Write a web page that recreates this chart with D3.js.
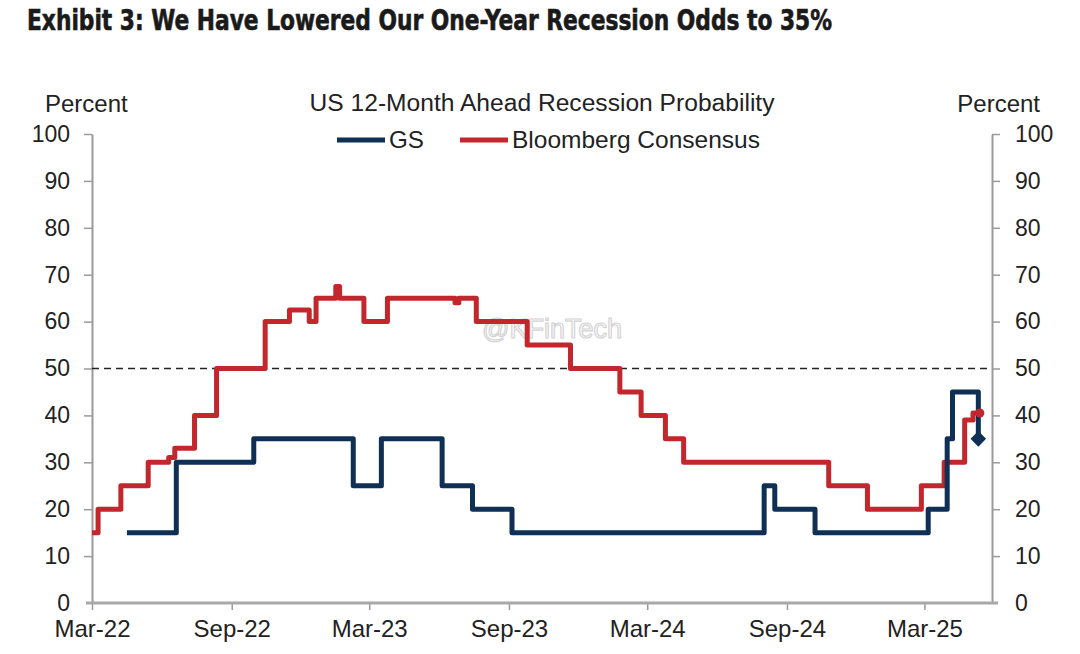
<!DOCTYPE html>
<html>
<head>
<meta charset="utf-8">
<script src="https://cdn.jsdelivr.net/npm/d3@7"></script>
<style>
  html, body { margin: 0; padding: 0; background: #fff; }
  svg { display: block; }
  text { font-family: "Liberation Sans", Arial, sans-serif; fill: #222; }
</style>
</head>
<body>
<svg id="chart" width="1080" height="654"></svg>
<script>
// ---------- data ----------
const title = "Exhibit 3: We Have Lowered Our One-Year Recession Odds to 35%";
const subtitle = "US 12-Month  Ahead  Recession Probability";
const seriesNames = ["GS", "Bloomberg Consensus"];
const yTicks = [0, 10, 20, 30, 40, 50, 60, 70, 80, 90, 100];
const xTickDates = ["2022-03-01", "2022-09-01", "2023-03-01", "2023-09-01", "2024-03-01", "2024-09-01", "2025-03-01"];
const xTickLabels = ["Mar-22", "Sep-22", "Mar-23", "Sep-23", "Mar-24", "Sep-24", "Mar-25"];
const xDomain = ["2022-03-01", "2025-05-29"];
const threshold = 50;

// GS step series: date the value takes effect
const gsDates = ["2022-04-16", "2022-06-20", "2022-09-30", "2023-02-08", "2023-03-17", "2023-06-05",
  "2023-07-15", "2023-09-05", "2024-08-02", "2024-08-16", "2024-10-08", "2025-03-06",
  "2025-03-31", "2025-04-07", "2025-05-11"];
const gsValues = [15, 30, 35, 25, 35, 25, 20, 15, 25, 20, 15, 20, 35, 45, 35];

// Bloomberg consensus step series
const bbgDates = ["2022-03-01", "2022-03-09", "2022-04-08", "2022-05-14", "2022-06-10", "2022-06-18",
  "2022-07-14", "2022-08-12", "2022-10-15", "2022-11-16", "2022-12-12", "2022-12-21",
  "2023-01-16", "2023-01-21", "2023-02-22", "2023-03-25", "2023-06-22", "2023-06-27",
  "2023-07-20", "2023-09-25", "2023-11-21", "2024-01-25", "2024-02-22", "2024-03-25",
  "2024-04-18", "2024-10-26", "2024-12-16", "2025-02-25", "2025-03-27", "2025-04-23",
  "2025-05-04", "2025-05-13"];
const bbgValues = [15, 20, 25, 30, 31, 33, 40, 50, 60, 62.5, 60, 65, 67.5, 65, 60, 65, 64, 65,
  60, 55, 50, 45, 40, 35, 30, 25, 20, 25, 30, 39, 40.5, 40.5];

// ---------- layout ----------
const colors = { gs: "#0f2f55", bbg: "#c1272d", axis: "#9a9a9a" };
const svg = d3.select("#chart");
const parse = d3.utcParse("%Y-%m-%d");
const x = d3.scaleUtc().domain(xDomain.map(parse)).range([92, 992]);
const y = d3.scaleLinear().domain([0, 100]).range([603, 134]);

const gs = gsDates.map((d, i) => ({ date: parse(d), value: gsValues[i] }));
const bbg = bbgDates.map((d, i) => ({ date: parse(d), value: bbgValues[i] }));

// title
svg.append("text").attr("x", 27).attr("y", 30)
  .attr("textLength", 805).attr("lengthAdjust", "spacingAndGlyphs")
  .style("font-family", "'Liberation Sans Narrow', 'DejaVu Sans Condensed', 'Liberation Sans', sans-serif")
  .style("font-weight", "bold").style("font-size", "28px").style("fill", "#1a1a1a")
  .style("stroke", "#1a1a1a").style("stroke-width", 0.6)
  .text(title);

// axis titles & subtitle
svg.append("text").attr("x", 45).attr("y", 112).style("font-size", "24px").text("Percent");
svg.append("text").attr("x", 1040).attr("y", 112).attr("text-anchor", "end").style("font-size", "24px").text("Percent");
svg.append("text").attr("x", 542).attr("y", 111).attr("text-anchor", "middle")
  .attr("textLength", 465).attr("lengthAdjust", "spacingAndGlyphs")
  .style("font-size", "23px").text(subtitle);

// legend
const legend = [
  { name: seriesNames[0], color: colors.gs, x1: 337, tx: 389, w: 35 },
  { name: seriesNames[1], color: colors.bbg, x1: 460, tx: 512, w: 248 }
];
legend.forEach(l => {
  svg.append("line").attr("x1", l.x1).attr("x2", l.x1 + 48).attr("y1", 140).attr("y2", 140)
    .attr("stroke", l.color).attr("stroke-width", 5);
  svg.append("text").attr("x", l.tx).attr("y", 148).style("font-size", "24px")
    .attr("textLength", l.w).attr("lengthAdjust", "spacingAndGlyphs").text(l.name);
});

// y axes
const yLeft = svg.append("g").attr("transform", `translate(${x.range()[0]},0)`)
  .call(d3.axisLeft(y).tickValues(yTicks).tickSize(8).tickPadding(14).tickSizeOuter(0));
const yRight = svg.append("g").attr("transform", `translate(${x.range()[1]},0)`)
  .call(d3.axisRight(y).tickValues(yTicks).tickSize(8).tickPadding(15).tickSizeOuter(0));
[yLeft, yRight].forEach(g => {
  g.select(".domain").attr("stroke", colors.axis).attr("stroke-width", 2);
  g.selectAll(".tick line").attr("stroke", colors.axis).attr("stroke-width", 1.5);
  g.selectAll(".tick text").style("font-size", "23px").style("font-family", "'Liberation Sans', Arial, sans-serif").attr("fill", "#222");
  g.selectAll(".tick").filter(d => d === 0).select("line").remove();
});

// x axis
const xAxis = svg.append("g").attr("transform", `translate(0,${y(0)})`)
  .call(d3.axisBottom(x).tickValues(xTickDates.map(parse))
    .tickFormat((d, i) => xTickLabels[i]).tickSize(7).tickPadding(10).tickSizeOuter(0));
xAxis.select(".domain").remove();
xAxis.selectAll(".tick line").attr("stroke", colors.axis).attr("stroke-width", 1.5);
xAxis.selectAll(".tick text").style("font-size", "24px").style("font-family", "'Liberation Sans', Arial, sans-serif").attr("fill", "#222");
svg.append("line").attr("x1", 86).attr("x2", 998).attr("y1", y(0)).attr("y2", y(0))
  .attr("stroke", "#a8a8a8").attr("stroke-width", 3);

// threshold
svg.append("line").attr("x1", x.range()[0]).attr("x2", x.range()[1])
  .attr("y1", y(threshold)).attr("y2", y(threshold))
  .attr("stroke", "#222").attr("stroke-width", 1.6).attr("stroke-dasharray", "7,5");

// watermark
svg.append("text").attr("x", 482).attr("y", 338)
  .style("font-size", "27px").style("font-family", "'Liberation Sans', Arial, sans-serif")
  .style("fill", "#ffffff").style("stroke", "#cfcfcf").style("stroke-width", 1.2)
  .style("opacity", 0.9).text("@KFinTech");

// lines
const line = d3.line().x(d => x(d.date)).y(d => y(d.value)).curve(d3.curveStepAfter);
svg.append("path").datum(bbg).attr("d", line).attr("fill", "none")
  .attr("stroke", colors.bbg).attr("stroke-width", 5).attr("stroke-linejoin", "round");
svg.append("path").datum(gs).attr("d", line).attr("fill", "none")
  .attr("stroke", colors.gs).attr("stroke-width", 5).attr("stroke-linejoin", "round");

// end markers
const bLast = bbg[bbg.length - 1];
svg.append("circle").attr("cx", x(bLast.date)).attr("cy", y(bLast.value)).attr("r", 4.5).attr("fill", colors.bbg);
const gLast = gs[gs.length - 1];
svg.append("rect").attr("x", -5.5).attr("y", -5.5).attr("width", 11).attr("height", 11)
  .attr("transform", `translate(${x(gLast.date)},${y(gLast.value)}) rotate(45)`).attr("fill", colors.gs);
</script>
</body>
</html>
